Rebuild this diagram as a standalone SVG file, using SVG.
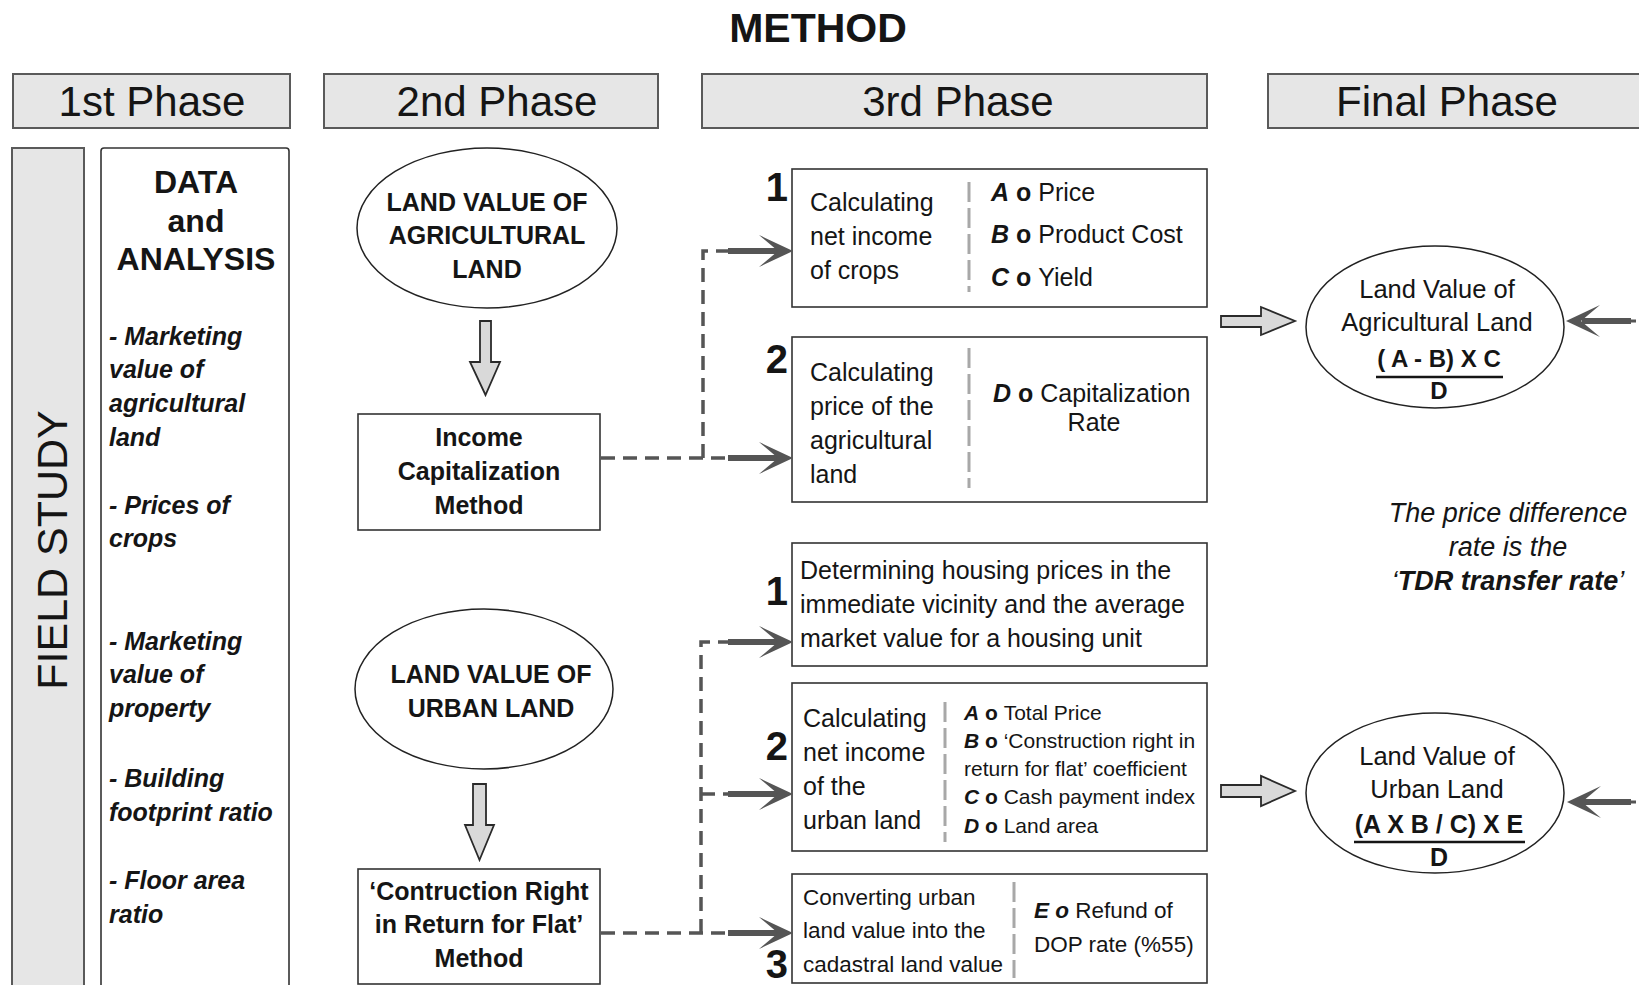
<svg xmlns="http://www.w3.org/2000/svg" width="1639" height="985" viewBox="0 0 1639 985">
  <style>
    text { font-family: "Liberation Sans", Arial, sans-serif; fill: #151515; }
    .hdr { fill: #e6e6e6; stroke: #5a5a5a; stroke-width: 2; }
    .hdrt { font-size: 42px; text-anchor: middle; }
    .box { fill: #ffffff; stroke: #333333; stroke-width: 1.6; }
    .ell { fill: #ffffff; stroke: #222222; stroke-width: 1.5; }
    .b { font-weight: bold; }
    .bi { font-weight: bold; font-style: italic; }
    .i { font-style: italic; }
    .mid { text-anchor: middle; }
    .f25 { font-size: 25px; }
    .num { font-size: 40px; font-weight: bold; text-anchor: end; }
    .sep { stroke: #a8a8a8; stroke-width: 3; stroke-dasharray: 20 6; fill: none; }
    .dash { stroke: #555555; stroke-width: 3.5; stroke-dasharray: 14 8; fill: none; }
    .shaft { stroke: #555555; stroke-width: 6; fill: none; }
    .head { fill: #555555; }
    .block { fill: #d9d9d9; stroke: #2a2a2a; stroke-width: 1.8; stroke-linejoin: miter; }
    .rule { stroke: #151515; stroke-width: 2.5; }
  </style>
  <defs>
    <path id="ah" d="M0,0 L-34,-16 L-15,0 L-34,16 Z"/>
  </defs>

  <!-- title -->
  <text x="818" y="42" class="b mid" font-size="41">METHOD</text>

  <!-- phase headers -->
  <g id="phase1"><rect class="hdr" x="13" y="74" width="277" height="54"/><text class="hdrt" x="152" y="116">1st Phase</text></g>
  <g id="phase2"><rect class="hdr" x="324" y="74" width="334" height="54"/><text class="hdrt" x="497" y="116">2nd Phase</text></g>
  <g id="phase3"><rect class="hdr" x="702" y="74" width="505" height="54"/><text class="hdrt" x="958" y="116">3rd Phase</text></g>
  <g id="phaseFinal"><rect class="hdr" x="1268" y="74" width="400" height="54"/><text class="hdrt" x="1447" y="116">Final Phase</text></g>

  <!-- field study column -->
  <g id="fieldStudy">
    <rect class="hdr" x="12" y="148" width="72" height="860" stroke-width="1.6"/>
    <text transform="translate(67,550) rotate(-90)" class="mid" font-size="43">FIELD STUDY</text>
  </g>

  <!-- data and analysis column -->
  <g id="dataAnalysis">
    <rect class="box" x="101" y="148" width="188" height="860" rx="3"/>
    <text class="b mid" x="196" y="193" font-size="32">DATA</text>
    <text class="b mid" x="196" y="232" font-size="32">and</text>
    <text class="b mid" x="196" y="270" font-size="32">ANALYSIS</text>
    <g class="bi f25">
      <text x="109" y="345">- Marketing</text>
      <text x="109" y="378">value of</text>
      <text x="109" y="412">agricultural</text>
      <text x="109" y="446">land</text>
      <text x="109" y="514">- Prices of</text>
      <text x="109" y="547">crops</text>
      <text x="109" y="650">- Marketing</text>
      <text x="109" y="683">value of</text>
      <text x="109" y="717">property</text>
      <text x="109" y="787">- Building</text>
      <text x="109" y="821">footprint ratio</text>
      <text x="109" y="889">- Floor area</text>
      <text x="109" y="923">ratio</text>
    </g>
  </g>

  <!-- second phase: agricultural branch -->
  <g id="agriLand">
    <ellipse class="ell" cx="487" cy="228" rx="130" ry="80"/>
    <text class="b mid f25" x="487" y="211">LAND VALUE OF</text>
    <text class="b mid f25" x="487" y="244">AGRICULTURAL</text>
    <text class="b mid f25" x="487" y="278">LAND</text>
  </g>
  <g id="agriDown"><path class="block" d="M480,321 H491 V362 H500 L485.5,395 L470,362 H480 Z"/></g>
  <g id="incomeMethod">
    <rect class="box" x="358" y="414" width="242" height="116"/>
    <text class="b mid f25" x="479" y="446">Income</text>
    <text class="b mid f25" x="479" y="480">Capitalization</text>
    <text class="b mid f25" x="479" y="514">Method</text>
  </g>

  <!-- second phase: urban branch -->
  <g id="urbanLand">
    <ellipse class="ell" cx="484" cy="689" rx="129" ry="80"/>
    <text class="b mid f25" x="491" y="683">LAND VALUE OF</text>
    <text class="b mid f25" x="491" y="717">URBAN LAND</text>
  </g>
  <g id="urbanDown"><path class="block" d="M473,784 H486 V825 H494 L479.5,860 L465,825 H473 Z"/></g>
  <g id="flatMethod">
    <rect class="box" x="358" y="869" width="242" height="115"/>
    <text class="b mid f25" x="479" y="900">‘Contruction Right</text>
    <text class="b mid f25" x="479" y="933">in Return for Flat’</text>
    <text class="b mid f25" x="479" y="967">Method</text>
  </g>

  <!-- third phase: agricultural steps -->
  <g id="agriStep1">
    <text class="num" x="788" y="201">1</text>
    <rect class="box" x="792" y="169" width="415" height="138"/>
    <text class="f25" x="810" y="211">Calculating</text>
    <text class="f25" x="810" y="245">net income</text>
    <text class="f25" x="810" y="279">of crops</text>
    <line class="sep" x1="969" y1="182" x2="969" y2="292"/>
    <text class="f25" x="991" y="201"><tspan class="bi">A</tspan><tspan class="b"> o </tspan>Price</text>
    <text class="f25" x="991" y="243"><tspan class="bi">B</tspan><tspan class="b"> o </tspan>Product Cost</text>
    <text class="f25" x="991" y="286"><tspan class="bi">C</tspan><tspan class="b"> o </tspan>Yield</text>
  </g>
  <g id="agriStep2">
    <text class="num" x="788" y="373">2</text>
    <rect class="box" x="792" y="337" width="415" height="165"/>
    <text class="f25" x="810" y="381">Calculating</text>
    <text class="f25" x="810" y="415">price of the</text>
    <text class="f25" x="810" y="449">agricultural</text>
    <text class="f25" x="810" y="483">land</text>
    <line class="sep" x1="969" y1="348" x2="969" y2="488"/>
    <text class="f25" x="993" y="402"><tspan class="bi">D</tspan><tspan class="b"> o </tspan>Capitalization</text>
    <text class="f25 mid" x="1094" y="431">Rate</text>
  </g>

  <!-- third phase: urban steps -->
  <g id="urbanStep1">
    <text class="num" x="788" y="605">1</text>
    <rect class="box" x="792" y="543" width="415" height="123"/>
    <text class="f25" x="800" y="579">Determining housing prices in the</text>
    <text class="f25" x="800" y="613">immediate vicinity and the average</text>
    <text class="f25" x="800" y="647">market value for a housing unit</text>
  </g>
  <g id="urbanStep2">
    <text class="num" x="788" y="760">2</text>
    <rect class="box" x="792" y="683" width="415" height="168"/>
    <text class="f25" x="803" y="727">Calculating</text>
    <text class="f25" x="803" y="761">net income</text>
    <text class="f25" x="803" y="795">of the</text>
    <text class="f25" x="803" y="829">urban land</text>
    <line class="sep" x1="945" y1="702" x2="945" y2="842"/>
    <g font-size="21">
      <text x="964" y="720"><tspan class="bi">A</tspan><tspan class="b"> o </tspan>Total Price</text>
      <text x="964" y="748"><tspan class="bi">B</tspan><tspan class="b"> o </tspan>‘Construction right in</text>
      <text x="964" y="776">return for flat’ coefficient</text>
      <text x="964" y="804"><tspan class="bi">C</tspan><tspan class="b"> o </tspan>Cash payment index</text>
      <text x="964" y="833"><tspan class="bi">D</tspan><tspan class="b"> o </tspan>Land area</text>
    </g>
  </g>
  <g id="urbanStep3">
    <text class="num" x="788" y="978" font-size="30">3</text>
    <rect class="box" x="792" y="874" width="415" height="109"/>
    <g font-size="22.5">
      <text x="803" y="905">Converting urban</text>
      <text x="803" y="938">land value into the</text>
      <text x="803" y="972">cadastral land value</text>
    </g>
    <line class="sep" x1="1014" y1="882" x2="1014" y2="978"/>
    <g font-size="22.5">
      <text x="1034" y="918"><tspan class="bi">E o</tspan> Refund of</text>
      <text x="1034" y="952">DOP rate (%55)</text>
    </g>
  </g>

  <!-- final phase -->
  <g id="agriValue">
    <ellipse class="ell" cx="1435" cy="327" rx="129" ry="81"/>
    <text class="mid" font-size="25.5" x="1437" y="298">Land Value of</text>
    <text class="mid" font-size="25.5" x="1437" y="331">Agricultural Land</text>
    <text class="b mid" font-size="24" x="1439" y="367">( A - B) X C</text>
    <line class="rule" x1="1376" y1="377" x2="1503" y2="377"/>
    <text class="b mid" font-size="24" x="1439" y="399">D</text>
  </g>
  <g id="urbanValue">
    <ellipse class="ell" cx="1435" cy="793" rx="129" ry="80"/>
    <text class="mid" font-size="25.5" x="1437" y="765">Land Value of</text>
    <text class="mid" font-size="25.5" x="1437" y="798">Urban Land</text>
    <text class="b mid" font-size="25" x="1439" y="833">(A X B / C) X E</text>
    <line class="rule" x1="1354" y1="842" x2="1525" y2="842"/>
    <text class="b mid" font-size="25" x="1439" y="866">D</text>
  </g>
  <g id="tdrNote" class="i" font-size="27">
    <text class="mid" x="1508" y="522">The price difference</text>
    <text class="mid" x="1508" y="556">rate is the</text>
    <text class="mid" x="1508" y="590">‘<tspan class="bi">TDR transfer rate</tspan>’</text>
  </g>

  <!-- connectors -->
  <g id="connectors">
    <!-- income capitalization to agricultural steps -->
    <path class="dash" d="M601,458 H730"/>
    <path class="dash" d="M703,458 V251 H730"/>
    <path class="shaft" d="M728,251 H778 M728,458 H778"/>
    <use href="#ah" class="head" transform="translate(793,251)"/>
    <use href="#ah" class="head" transform="translate(793,458)"/>

    <!-- construction right method to urban steps -->
    <path class="dash" d="M601,933 H730"/>
    <path class="dash" d="M701,933 V642 H730"/>
    <path class="dash" d="M701,794 H730"/>
    <path class="shaft" d="M728,642 H778 M728,794 H778 M728,933 H778"/>
    <use href="#ah" class="head" transform="translate(793,642)"/>
    <use href="#ah" class="head" transform="translate(793,794)"/>
    <use href="#ah" class="head" transform="translate(793,933)"/>

    <!-- steps into final values -->
    <path class="block" d="M1221,316 H1261 V307 L1295,321 L1261,335 V327 H1221 Z"/>
    <path class="block" d="M1221,785 H1261 V776 L1295,791 L1261,806 V797 H1221 Z"/>

    <!-- incoming arrows from the right -->
    <path class="shaft" d="M1582,321 H1631 M1582,802 H1631"/>
    <path d="M1630,321 H1636 M1630,802 H1636" stroke="#555555" stroke-width="3"/>
    <use href="#ah" class="head" transform="translate(1566,321) rotate(180)"/>
    <use href="#ah" class="head" transform="translate(1567,802) rotate(180)"/>
  </g>
</svg>
